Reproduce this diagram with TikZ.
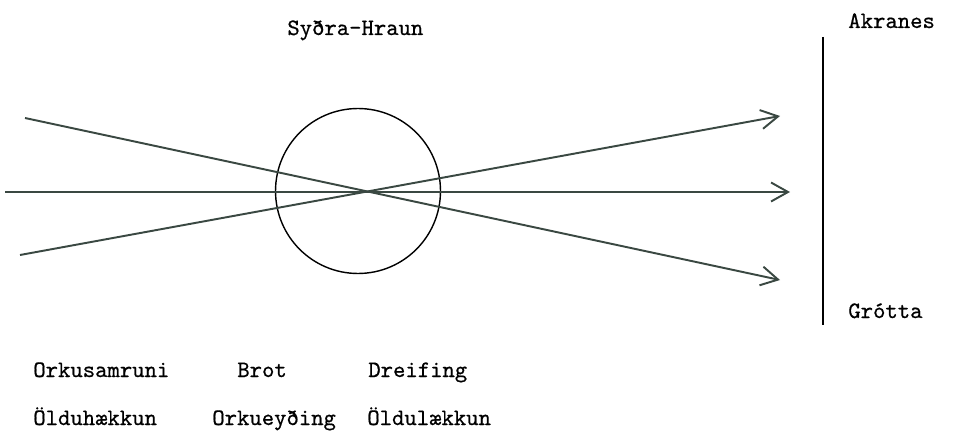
\documentclass[tikz,border=0pt]{standalone}
\usepackage{fontspec}
\newfontfamily\typew{lmmono10-regular.otf}[FakeBold=0.6]
\usepackage{tikz}
\usetikzlibrary{arrows.meta}

\definecolor{raycol}{RGB}{58,72,66}

\begin{document}
\begin{tikzpicture}[
  x=0.02cm, y=-0.02cm,
  lbl/.style={font=\typew\fontsize{13.4}{15}\selectfont, inner sep=0pt, anchor=base west},
  ray/.style={draw=raycol, line width=1.1pt,
              -{Straight Barb[length=3.4mm, width=3.8mm, line width=1.1pt]}},
  lens/.style={draw, circle, line width=0.8pt, minimum size=3.3cm, inner sep=0pt},
]
  \useasboundingbox (0,0) rectangle (962,432);

  % lens and the wave rays through it
  \node[lens] (lens) at (358,191) {};
  \coordinate (tl) at (25,118);
  \coordinate (ml) at (5,192);
  \coordinate (bl) at (20,255);
  \coordinate (tr) at (780,116);
  \coordinate (mr) at (790,192);
  \coordinate (br) at (780,280);
  \draw[ray] (tl) -- (br);
  \draw[ray] (ml) -- (mr);
  \draw[ray] (bl) -- (tr);

  % coast line
  \coordinate (ctop) at (823,37);
  \coordinate (cbot) at (823,325);
  \draw[line width=1pt] (ctop) -- (cbot);

  \node[lbl] (hraun) at (287,35) {Syðra-Hraun};
  \node[lbl] (akranes) at (848,28) {Akranes};
  \node[lbl] (grotta) at (848,318) {Grótta};

  \node[lbl] (samruni) at (33,377) {Orkusamruni};
  \node[lbl] (brot) at (237,377) {Brot};
  \node[lbl] (dreifing) at (368,377) {Dreifing};
  \node[lbl] (haekkun) at (33,425) {Ölduhækkun};
  \node[lbl] (eyding) at (212,425) {Orkueyðing};
  \node[lbl] (laekkun) at (367,425) {Öldulækkun};
\end{tikzpicture}
\end{document}
